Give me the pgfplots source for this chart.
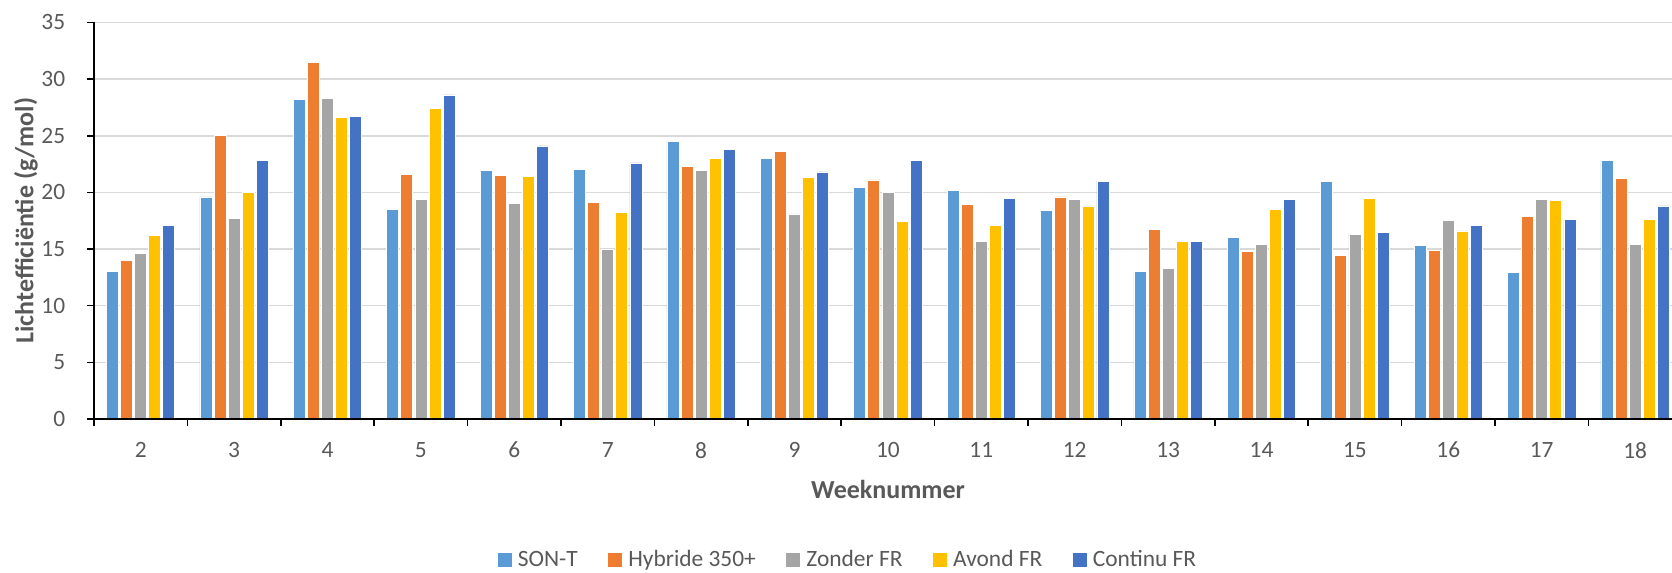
\documentclass[border=0pt]{standalone}
\usepackage{pgfplots}
\pgfplotsset{compat=1.18}
\usepackage{pgfplotstable}
\usepackage{fontspec}
\setmainfont{Carlito}

\definecolor{sont}{HTML}{5B9BD5}
\definecolor{hyb}{HTML}{ED7D31}
\definecolor{zonder}{HTML}{A5A5A5}
\definecolor{avond}{HTML}{FFC000}
\definecolor{continu}{HTML}{4472C4}
\definecolor{txt}{HTML}{595959}
\definecolor{gridc}{HTML}{D9D9D9}

% Lichtefficientie per week (g/mol)
\pgfplotstableread{
week sont hyb  zonder avond continu
2    13.0 14.0 14.6   16.2  17.1
3    19.6 25.0 17.7   20.0  22.8
4    28.2 31.5 28.3   26.6  26.7
5    18.5 21.6 19.4   27.4  28.6
6    21.9 21.5 19.0   21.4  24.1
7    22.0 19.1 15.0   18.2  22.6
8    24.5 22.3 21.9   23.0  23.8
9    23.0 23.6 18.1   21.3  21.8
10   20.4 21.1 20.0   17.4  22.8
11   20.2 18.9 15.7   17.1  19.5
12   18.4 19.6 19.4   18.8  21.0
13   13.0 16.7 13.3   15.7  15.7
14   16.0 14.8 15.4   18.5  19.4
15   21.0 14.4 16.3   19.5  16.5
16   15.3 14.9 17.5   16.6  17.1
17   12.9 17.9 19.4   19.3  17.6
18   22.8 21.2 15.4   17.6  18.8
}\datatable

\begin{document}
\begin{tikzpicture}
\begin{axis}[
  at={(47pt,77pt)}, anchor=south west,
  scale only axis, width=789pt, height=198.3pt,
  xmin=1.5, xmax=18.395, ymin=0, ymax=35,
  enlarge x limits=false, clip=false,
  axis x line*=bottom, axis y line*=left,
  axis line style={-, black, line width=0.8pt},
  ybar=1.05pt, bar width=6pt,
  % tick marks between the weeks, labels under each week
  xtick={1.5,2.5,...,17.5},
  xticklabels={},
  extra x ticks={2,3,...,18},
  extra x tick labels={2,3,4,5,6,7,8,9,10,11,12,13,14,15,16,17,18},
  extra x tick style={major tick length=0pt, grid=none},
  ytick={0,5,...,35},
  tick align=outside,
  major tick length=3.5pt,
  tick style={black, line width=0.8pt},
  ymajorgrids,
  grid style={gridc, line width=0.8pt},
  /pgf/number format/assume math mode=true,
  ticklabel style={font=\fontsize{11.7}{13}\selectfont, text=txt},
  xticklabel shift=8pt,
  yticklabel shift=7.4pt,
  xlabel={Weeknummer},
  ylabel={Lichtefficiëntie (g/mol)},
  label style={font=\bfseries\fontsize{13}{15}\selectfont, text=txt},
  xlabel style={at={(axis description cs:0.5032,-0.1765)}, anchor=center},
  ylabel style={at={(axis description cs:-0.0431,0.5)}, anchor=center},
  legend columns=5,
  legend image code/.code={\path[#1, draw=none] (0pt,-3.5pt) rectangle (7pt,3.5pt);},
  legend style={draw=none, at={(axis description cs:0.4772,-0.3555)}, anchor=center,
    font=\fontsize{11.7}{13}\selectfont, text=txt,
    nodes={inner sep=0pt},
    /tikz/every odd column/.append style={column sep=3pt},
    /tikz/every even column/.append style={column sep=15.3pt}},
  every axis plot/.append style={draw=white, line width=0.4pt},
]
\addplot[fill=sont]    table[x=week, y=sont]    {\datatable};
\addplot[fill=hyb]     table[x=week, y=hyb]     {\datatable};
\addplot[fill=zonder]  table[x=week, y=zonder]  {\datatable};
\addplot[fill=avond]   table[x=week, y=avond]   {\datatable};
\addplot[fill=continu] table[x=week, y=continu] {\datatable};
\legend{SON-T, Hybride 350+, Zonder FR, Avond FR, Continu FR}
% horizontal axis line again, in front of the bar outlines
\draw[black, line width=0.8pt] (rel axis cs:0,0) -- (rel axis cs:1,0);
\end{axis}
% page size: the chart area, cut at the right
\pgfresetboundingbox
\useasboundingbox (0,0) rectangle (836pt,286.5pt);
\end{tikzpicture}
\end{document}
